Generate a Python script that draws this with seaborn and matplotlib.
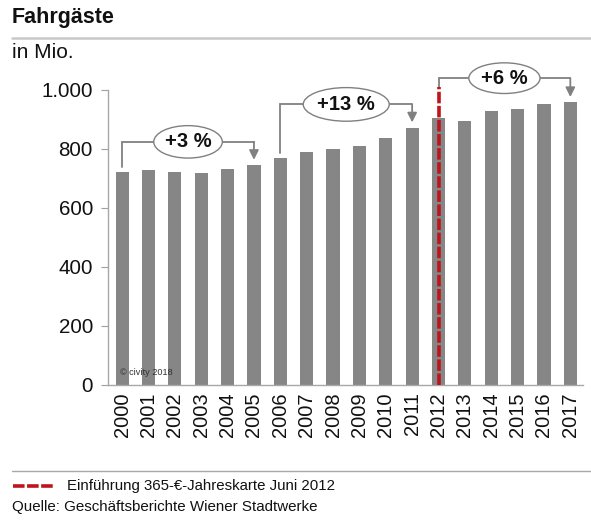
import matplotlib
matplotlib.use("Agg")
import matplotlib.pyplot as plt
from matplotlib.lines import Line2D
from matplotlib.patches import Ellipse
import seaborn as sns
import pandas as pd

years = [str(y) for y in range(2000, 2018)]
passengers = [723, 728, 721, 720, 733, 745, 770, 791, 801, 809, 836, 872, 904, 896, 928, 936, 951, 958]
yticks = [0, 200, 400, 600, 800, 1000]
ytick_labels = ["0", "200", "400", "600", "800", "1.000"]
# brackets: (start index, end index, label)
brackets = [(0, 5, "+3 %"), (6, 11, "+13 %"), (12, 17, "+6 %")]
bracket_levels = [824, 951, 1040]
intro_index = 12

title = "Fahrgäste"
unit = "in Mio."
legend_text = "Einführung 365-€-Jahreskarte Juni 2012"
source_text = "Quelle: Geschäftsberichte Wiener Stadtwerke"
copyright_text = "© civity 2018"

sns.set_style("white")
plt.rcParams["font.family"] = ["Liberation Sans", "DejaVu Sans"]

df = pd.DataFrame({"Jahr": years, "Fahrgäste": passengers})

fig = plt.figure(figsize=(5.91, 5.2), dpi=100)
ax = fig.add_axes([0.183, 0.26, 0.803, 0.567])

bar_color = "#868686"
sns.barplot(data=df, x="Jahr", y="Fahrgäste", color=bar_color, width=0.5,
            saturation=1, ax=ax, edgecolor="none")

ax.set_ylim(0, 1000)
ax.set_xlim(-0.53, 17.47)
ax.set_yticks(yticks)
ax.set_yticklabels(ytick_labels, fontsize=14.8, color="#111111")
ax.tick_params(axis="y", which="both", left=True, length=5, width=0.8,
               color="#a0a0a0", pad=6)
ax.tick_params(axis="x", bottom=False, pad=2)
for lbl in ax.get_xticklabels():
    lbl.set_rotation(90)
    lbl.set_fontsize(14.5)
    lbl.set_color("#111111")
ax.set_xlabel("")
ax.set_ylabel("")
for s in ["top", "right"]:
    ax.spines[s].set_visible(False)
for s in ["left", "bottom"]:
    ax.spines[s].set_color("#a8a8a8")
    ax.spines[s].set_linewidth(1.0)

# red dashed intro line
red = "#c0141c"
ax.plot([intro_index, intro_index], [0, 1010], color=red, lw=2.6,
        dashes=(3.2, 0.7), clip_on=False, zorder=5)

# brackets with ellipses
gray = "#808080"
ell_widths = [2.6, 3.26, 2.7]
ell_heights = [110, 114, 104]
for (i0, i1, lab), lev, ew, eh in zip(brackets, bracket_levels, ell_widths, ell_heights):
    start_y = passengers[i0] + 16 if i0 != intro_index else 1010
    tip_y = passengers[i1] + 18
    xc = (i0 + i1) / 2
    ax.plot([i0, i0, i1], [start_y, lev, lev], color=gray, lw=1.3,
            clip_on=False, zorder=4, solid_joinstyle="miter")
    ax.annotate("", xy=(i1, tip_y), xytext=(i1, lev),
                arrowprops=dict(arrowstyle="-|>", color=gray, lw=1.3,
                                mutation_scale=14, shrinkA=0, shrinkB=0),
                annotation_clip=False, zorder=4)
    e = Ellipse((xc, lev), ew, eh, facecolor="white", edgecolor=gray,
                lw=1.0, clip_on=False, zorder=6)
    ax.add_patch(e)
    ax.text(xc, lev, lab, ha="center", va="center", fontsize=14.5,
            fontweight="bold", color="#111111", zorder=7, clip_on=False)

ax.text(0.025, 0.025, copyright_text, transform=ax.transAxes, fontsize=6.6,
        color="#333333", ha="left", va="bottom", zorder=8)

# header
W, H = 591, 520
fig.text(12 / W, 1 - 18 / H, title, fontsize=15.5, fontweight="bold",
         ha="left", va="center", color="#111111")
fig.add_artist(Line2D([12 / W, 1.0], [1 - 38 / H, 1 - 38 / H],
                      color="#c8c8c8", lw=1.8))
fig.text(12 / W, 1 - 52 / H, unit, fontsize=15, ha="left", va="center",
         color="#111111")

# footer
fig.add_artist(Line2D([12 / W, 1.0], [1 - 471 / H, 1 - 471 / H],
                      color="#a8a8a8", lw=1.0))
fig.add_artist(Line2D([13 / W, 55 / W], [1 - 486 / H, 1 - 486 / H],
                      color=red, lw=2.6, dashes=(3.2, 0.7)))
fig.text(67 / W, 1 - 486 / H, legend_text, fontsize=10.8, ha="left",
         va="center", color="#111111")
fig.text(12 / W, 1 - 507 / H, source_text, fontsize=10.9, ha="left",
         va="center", color="#111111")

fig.savefig("out.png", dpi=100)
